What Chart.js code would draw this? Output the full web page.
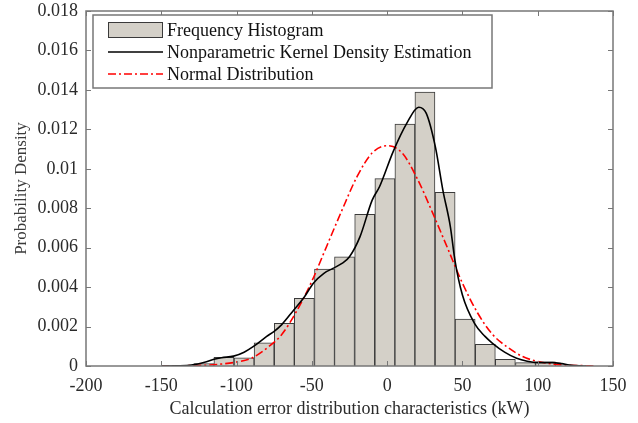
<!DOCTYPE html>
<html>
<head>
<meta charset="utf-8">
<script src="https://cdn.jsdelivr.net/npm/chart.js@4/dist/chart.umd.min.js"></script>
<style>
  body { margin: 0; background: #fff; }
  #wrap { width: 638px; height: 423px; }
</style>
</head>
<body>
<div id="wrap"><canvas id="histChart" width="638" height="423"></canvas></div>
<script>
// histogram bins (centres, kW) and their densities
var binCenters = [-121.7, -108.4, -95.0, -81.7, -68.3, -55.0, -41.6, -28.3, -14.9, -1.5, 11.8, 25.1, 38.5, 51.8, 65.2, 78.5, 91.9, 105.2];
var binDensity = [0.00012, 0.00044, 0.00042, 0.00118, 0.00216, 0.00343, 0.00492, 0.00553, 0.00769, 0.0095, 0.01227, 0.01389, 0.0088, 0.00238, 0.0011, 0.00034, 0.00017, 0.00021];

// kernel density curve
var kdeX = [-150, -140, -130, -120, -115, -110, -102, -95, -89, -80, -75, -70, -62, -55, -49, -42, -36, -30, -25, -18, -10, -5, 4, 13, 21, 26, 32, 37, 42, 45, 50, 58, 65, 70, 78, 86, 93, 100, 110, 116, 121, 132];
var kdeY = [0, 0.00001, 0.00005, 0.00022, 0.00034, 0.00042, 0.0005, 0.0007, 0.00098, 0.0015, 0.00176, 0.0021, 0.00284, 0.0035, 0.0042, 0.0047, 0.00495, 0.0052, 0.00554, 0.00656, 0.0084, 0.0091, 0.01087, 0.0123, 0.01312, 0.01281, 0.01112, 0.00892, 0.00706, 0.00537, 0.0036, 0.00216, 0.0015, 0.00115, 0.0007, 0.00039, 0.00024, 0.00017, 0.00017, 0.00012, 0.00005, 0];

// normal fit curve
var normX = [-150, -140, -130, -120, -110, -100, -90, -80, -70, -60, -50, -40, -30, -20, -10, 0, 10, 20, 30, 40, 50, 60, 70, 80, 90, 100, 110, 120, 130, 137];
var normY = [0, 0.00001, 0.00002, 0.00004, 0.0001, 0.0002, 0.0004, 0.0009, 0.0016, 0.0028, 0.0043, 0.0061, 0.0079, 0.0096, 0.0108, 0.01117, 0.0108, 0.0095, 0.0078, 0.006, 0.0042, 0.0027, 0.0016, 0.00095, 0.00048, 0.00023, 0.0001, 0.00004, 0.00002, 0];

var xTicks = [-200, -150, -100, -50, 0, 50, 100, 150];
var yTicks = [0, 0.002, 0.004, 0.006, 0.008, 0.01, 0.012, 0.014, 0.016, 0.018];

var seriesNames = ['Frequency Histogram', 'Nonparametric Kernel Density Estimation', 'Normal Distribution'];

var serif = '"Liberation Serif", "Times New Roman", serif';
var barFill = '#d4d0c8';
var barEdge = '#3a3a3a';
var axisGray = '#777777';

function toPoints(xs, ys) {
	var pts = [];
	for (var i = 0; i < xs.length; i++) {
		pts.push({x: xs[i], y: ys[i]});
	}
	return pts;
}

// box round the axes with inward ticks, like matlab
var boxPlugin = {
	id: 'boxPlugin',
	afterDatasetsDraw: function(chart) {
		var ctx = chart.ctx;
		var a = chart.chartArea;
		var xs = chart.scales.x;
		var ys = chart.scales.y;
		ctx.save();
		ctx.strokeStyle = axisGray;
		ctx.lineWidth = 1.5;
		ctx.strokeRect(a.left, a.top, a.right - a.left, a.bottom - a.top);
		ctx.lineWidth = 1;
		ctx.beginPath();
		for (var i = 0; i < xTicks.length; i++) {
			var px = Math.round(xs.getPixelForValue(xTicks[i])) + 0.5;
			ctx.moveTo(px, a.bottom); ctx.lineTo(px, a.bottom - 5);
			ctx.moveTo(px, a.top); ctx.lineTo(px, a.top + 5);
		}
		for (var j = 0; j < yTicks.length; j++) {
			var py = Math.round(ys.getPixelForValue(yTicks[j])) + 0.5;
			ctx.moveTo(a.left, py); ctx.lineTo(a.left + 5, py);
			ctx.moveTo(a.right, py); ctx.lineTo(a.right - 5, py);
		}
		ctx.stroke();
		ctx.restore();
	},
	afterDraw: function(chart) {
		var ctx = chart.ctx;
		var a = chart.chartArea;
		var bx = a.left + 7, by = a.top + 4, bw = 399, bh = 73;
		ctx.save();
		ctx.fillStyle = '#ffffff';
		ctx.fillRect(bx, by, bw, bh);
		ctx.strokeStyle = axisGray;
		ctx.lineWidth = 1.5;
		ctx.strokeRect(bx, by, bw, bh);

		var sx = bx + 15, sw = 55, tx = bx + 74;
		var rows = [by + 15, by + 37, by + 59];

		ctx.fillStyle = barFill;
		ctx.fillRect(sx, rows[0] - 8, sw, 16);
		ctx.strokeStyle = barEdge;
		ctx.lineWidth = 1;
		ctx.strokeRect(sx + 0.5, rows[0] - 7.5, sw - 1, 15);

		ctx.lineWidth = 1.5;
		ctx.strokeStyle = '#000000';
		ctx.beginPath();
		ctx.moveTo(sx, rows[1]); ctx.lineTo(sx + sw, rows[1]);
		ctx.stroke();

		ctx.strokeStyle = '#ff0000';
		ctx.setLineDash([8, 3, 2, 3]);
		ctx.beginPath();
		ctx.moveTo(sx, rows[2]); ctx.lineTo(sx + sw, rows[2]);
		ctx.stroke();
		ctx.setLineDash([]);

		ctx.fillStyle = '#111111';
		ctx.font = '18px ' + serif;
		ctx.textBaseline = 'middle';
		ctx.textAlign = 'left';
		for (var i = 0; i < seriesNames.length; i++) {
			ctx.fillText(seriesNames[i], tx, rows[i] + 1);
		}
		ctx.restore();
	}
};

var ctx = document.getElementById('histChart');
var myChart = new Chart(ctx, {
	type: 'bar',
	data: {
		datasets: [{
			type: 'line',
			label: seriesNames[1],
			data: toPoints(kdeX, kdeY),
			borderColor: '#000000',
			borderWidth: 1.6,
			pointRadius: 0,
			cubicInterpolationMode: 'monotone',
			fill: false,
			order: 1
		}, {
			type: 'line',
			label: seriesNames[2],
			data: toPoints(normX, normY),
			borderColor: '#ff0000',
			borderWidth: 1.6,
			borderDash: [8, 3, 2, 3],
			pointRadius: 0,
			cubicInterpolationMode: 'monotone',
			fill: false,
			order: 2
		}, {
			type: 'bar',
			label: seriesNames[0],
			data: toPoints(binCenters, binDensity),
			backgroundColor: barFill,
			borderColor: barEdge,
			borderWidth: 1,
			barPercentage: 1,
			categoryPercentage: 1,
			order: 3
		}]
	},
	options: {
		responsive: false,
		animation: false,
		layout: { padding: { left: 0, right: 25, top: 11, bottom: 0 } },
		plugins: {
			legend: { display: false },
			tooltip: { enabled: false }
		},
		scales: {
			x: {
				type: 'linear',
				min: -200,
				max: 150,
				offset: false,
				grid: { display: false },
				border: { display: false },
				afterBuildTicks: function(scale) {
					scale.ticks = xTicks.map(function(v) { return {value: v}; });
				},
				afterFit: function(scale) {
					scale.height = 57;
					scale.paddingLeft = 0;
					scale.paddingRight = 0;
				},
				ticks: {
					padding: 1,
					maxRotation: 0,
					color: '#2a2a2a',
					font: { family: serif, size: 18 }
				},
				title: {
					display: true,
					text: 'Calculation error distribution characteristics (kW)',
					color: '#2a2a2a',
					font: { family: serif, size: 18 },
					padding: { top: 0, bottom: 3 }
				}
			},
			y: {
				min: 0,
				max: 0.018,
				grid: { display: false },
				border: { display: false },
				afterBuildTicks: function(scale) {
					scale.ticks = yTicks.map(function(v) { return {value: v}; });
				},
				afterFit: function(scale) {
					scale.width = 86;
					scale.paddingTop = 0;
					scale.paddingBottom = 0;
				},
				ticks: {
					padding: 0,
					color: '#2a2a2a',
					font: { family: serif, size: 18 },
					callback: function(v) { return String(parseFloat(Number(v).toFixed(4))); }
				},
				title: {
					display: true,
					text: 'Probability Density',
					color: '#3a3a3a',
					font: { family: serif, size: 17 },
					padding: { top: 11, bottom: 0 }
				}
			}
		}
	},
	plugins: [boxPlugin]
});
</script>
</body>
</html>
